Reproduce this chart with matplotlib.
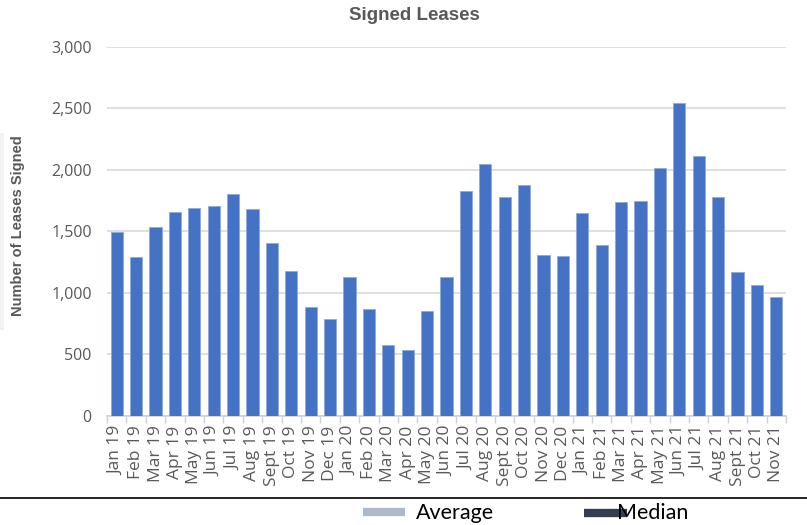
import matplotlib
matplotlib.use('Agg')
import matplotlib.pyplot as plt
from matplotlib.lines import Line2D
from matplotlib.patches import Rectangle
import numpy as np

months = ['Jan 19', 'Feb 19', 'Mar 19', 'Apr 19', 'May 19', 'Jun 19', 'Jul 19', 'Aug 19',
          'Sept 19', 'Oct 19', 'Nov 19', 'Dec 19',
          'Jan 20', 'Feb 20', 'Mar 20', 'Apr 20', 'May 20', 'Jun 20', 'Jul 20', 'Aug 20',
          'Sept 20', 'Oct 20', 'Nov 20', 'Dec 20',
          'Jan 21', 'Feb 21', 'Mar 21', 'Apr 21', 'May 21', 'Jun 21', 'Jul 21', 'Aug 21',
          'Sept 21', 'Oct 21', 'Nov 21']
leases = [1495, 1290, 1535, 1654, 1686, 1705, 1805, 1678, 1404, 1179, 886, 786,
          1130, 867, 575, 532, 849, 1130, 1824, 2044, 1778, 1876, 1306, 1298,
          1645, 1385, 1735, 1748, 2011, 2540, 2111, 1778, 1168, 1060, 967]
yticks = [0, 500, 1000, 1500, 2000, 2500, 3000]

grey = '#595959'
fig = plt.figure(figsize=(8.07, 5.25), dpi=100)
ax = fig.add_axes([107/807, 109.3/525, 679/807, 369.2/525])

x = np.arange(len(months))
ax.bar(x, leases, width=0.62, color='#4472C4', edgecolor='#8eaadb', linewidth=0.6, zorder=3)

ax.set_xlim(-0.5, len(months) - 0.5)
ax.set_ylim(0, 3000)
ax.set_yticks(yticks)
ax.set_yticklabels([f'{v:,}' for v in yticks], family='Open Sans', fontsize=11.5, color=grey)
ax.set_xticks(x)
ax.set_xticklabels(months, rotation=90, family='Open Sans', fontsize=12.5, color=grey)
ax.set_xticks(np.arange(-0.5, len(months), 1), minor=True)
ax.tick_params(axis='x', which='major', length=0, pad=7)
ax.tick_params(axis='x', which='minor', length=5, color='#d0d0d0', width=1)
ax.tick_params(axis='y', length=0, pad=11)

ax.grid(axis='y', color='#d9d9d9', linewidth=1.2, zorder=0)
for s in ['left', 'right', 'top']:
    ax.spines[s].set_visible(False)
ax.spines['bottom'].set_color('#d0d0d0')
ax.spines['bottom'].set_linewidth(1.2)

fig.text(414/807, 1 - 16/525, 'Signed Leases', ha='center', va='center',
         family='Liberation Sans', fontweight='bold', fontsize=13.5, color=grey)
fig.text(18/807, 1 - 226/525, 'Number of Leases Signed', rotation=90, ha='center', va='center',
         family='Liberation Sans', fontweight='bold', fontsize=10.5, color=grey)

# faint box edge at left
fig.add_artist(Rectangle((0, 1 - 330/525), 4/807, 197/525, transform=fig.transFigure,
                         facecolor='#f2f2f2', edgecolor='none'))

# bottom rule and legend
fig.add_artist(Line2D([0, 1], [1 - 497.5/525] * 2, transform=fig.transFigure, color='black', linewidth=1.2))
fig.add_artist(Line2D([363/807, 405/807], [1 - 511.5/525] * 2, transform=fig.transFigure,
                      color='#adb9ca', linewidth=6, solid_capstyle='butt'))
fig.text(416/807, 1 - 513/525, 'Average', ha='left', va='center', family='Lato', fontsize=15.5, color='black')
fig.add_artist(Line2D([584/807, 627/807], [1 - 513/525] * 2, transform=fig.transFigure,
                      color='#333f50', linewidth=6, solid_capstyle='butt'))
fig.text(617/807, 1 - 513/525, 'Median', ha='left', va='center', family='Lato', fontsize=15.5, color='black')

fig.savefig('out.png', dpi=100)
